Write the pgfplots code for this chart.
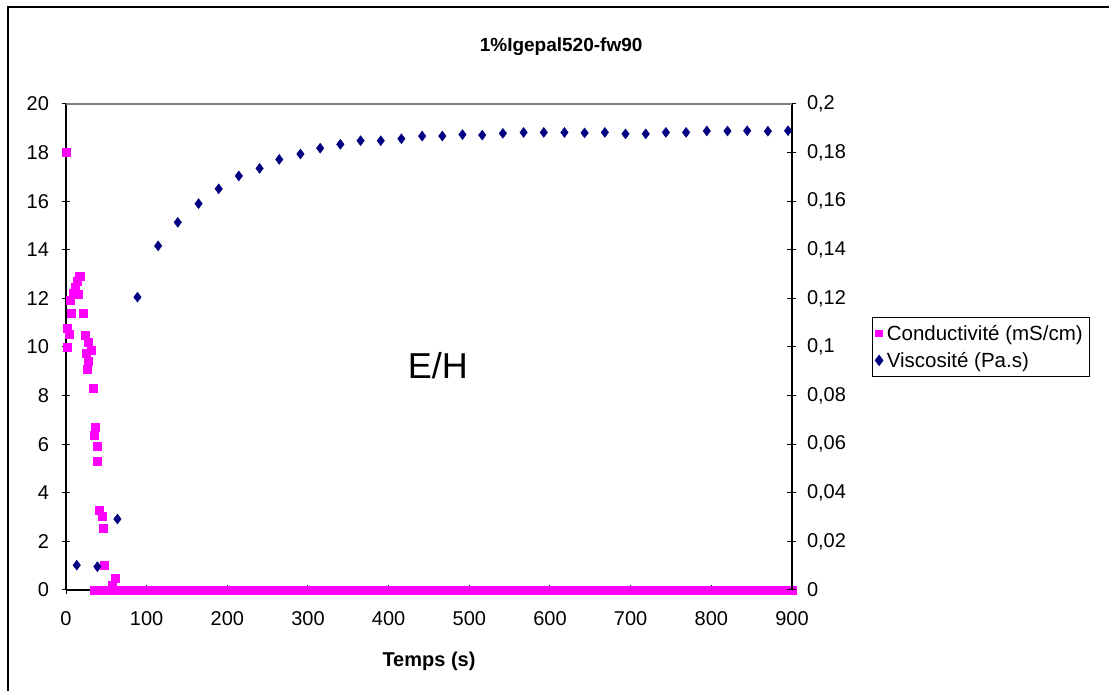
\documentclass[border=0pt]{standalone}
\usepackage{pgfplots}
\pgfplotsset{compat=1.18}
\usepackage{pgfplotstable}
\usepackage{fontspec}
\setmainfont{Liberation Sans}
\definecolor{cond}{RGB}{255,0,255}
\definecolor{visc}{RGB}{0,0,128}

\pgfplotstableread{
x y
0 18
2 10.76
2 9.99
4.5 10.53
5 11.93
6.2 11.41
9 12.21
12 12.48
13.3 12.69
15.3 12.18
16.2 12.9
18 12.9
21.5 11.41
23.6 10.47
24.9 9.74
25.7 9.09
27 9.40
27.8 10.19
30.7 9.85
33.2 8.30
34.8 6.38
36 6.72
38.1 5.93
38.9 5.28
41.4 3.29
44.3 3.02
45.6 2.54
47.2 1.0
56.8 0.2
61 0.48
35 0
40 0
45 0
50 0
55 0
60 0
65 0
70 0
75 0
80 0
85 0
90 0
95 0
100 0
105 0
110 0
115 0
120 0
125 0
130 0
135 0
140 0
145 0
150 0
155 0
160 0
165 0
170 0
175 0
180 0
185 0
190 0
195 0
200 0
205 0
210 0
215 0
220 0
225 0
230 0
235 0
240 0
245 0
250 0
255 0
260 0
265 0
270 0
275 0
280 0
285 0
290 0
295 0
300 0
305 0
310 0
315 0
320 0
325 0
330 0
335 0
340 0
345 0
350 0
355 0
360 0
365 0
370 0
375 0
380 0
385 0
390 0
395 0
400 0
405 0
410 0
415 0
420 0
425 0
430 0
435 0
440 0
445 0
450 0
455 0
460 0
465 0
470 0
475 0
480 0
485 0
490 0
495 0
500 0
505 0
510 0
515 0
520 0
525 0
530 0
535 0
540 0
545 0
550 0
555 0
560 0
565 0
570 0
575 0
580 0
585 0
590 0
595 0
600 0
605 0
610 0
615 0
620 0
625 0
630 0
635 0
640 0
645 0
650 0
655 0
660 0
665 0
670 0
675 0
680 0
685 0
690 0
695 0
700 0
705 0
710 0
715 0
720 0
725 0
730 0
735 0
740 0
745 0
750 0
755 0
760 0
765 0
770 0
775 0
780 0
785 0
790 0
795 0
800 0
805 0
810 0
815 0
820 0
825 0
830 0
835 0
840 0
845 0
850 0
855 0
860 0
865 0
870 0
875 0
880 0
885 0
890 0
895 0
900 0
}\conddata

\pgfplotstableread{
x y
13.3 0.0102
38.9 0.0096
63.8 0.0292
88.6 0.1205
114.2 0.1416
138.6 0.1513
164.3 0.1590
189.3 0.1651
214.3 0.1704
240 0.1735
264.4 0.1772
290.6 0.1794
315.1 0.1818
340.1 0.1834
365.2 0.1849
390.2 0.1849
415.8 0.1857
441.5 0.1868
466.5 0.1868
491.5 0.1874
516 0.1872
541.6 0.1879
567.3 0.1883
592.3 0.1883
617.9 0.1883
642.9 0.1881
668 0.1883
693.6 0.1877
718.7 0.1877
743.7 0.1883
768.7 0.1883
794.4 0.1889
820 0.1889
844.5 0.1890
870.1 0.1888
895.1 0.1890
}\viscdata

\begin{document}
\begin{tikzpicture}
\path[use as bounding box] (0,0) rectangle (1109bp,691bp);
\draw[line width=2.5bp] (8bp,0) -- (8bp,684bp) -- (1109bp,684bp);
\pgfplotsset{
  base/.style={
    at={(66bp,101bp)}, anchor=south west,
    scale only axis, width=726bp, height=486bp,
    xmin=0, xmax=900, clip=false,
    tick align=center, major tick length=9bp,
    every tick/.style={black, line width=1bp},
    axis line style={line width=1.2bp, black},
    tick label style={font=\fontsize{20bp}{23bp}\selectfont},
    /pgf/number format/assume math mode=true,
  }
}
\begin{axis}[base,
  ymin=0, ymax=20,
  axis x line*=bottom, axis y line*=left,
  xtick={0,100,...,900}, ytick={0,2,...,20},
  xticklabel style={yshift=-14bp},
  yticklabel style={xshift=-9bp},
  title={1\%Igepal520-fw90},
  title style={at={(axis description cs:0.682,1.105)}, anchor=center, font=\bfseries\fontsize{19bp}{22bp}\selectfont},
  xlabel={Temps (s)},
  xlabel style={at={(axis description cs:0.5,-0.146)}, anchor=center, font=\bfseries\fontsize{20bp}{23bp}\selectfont},
]
\addplot[only marks, mark=square*, mark size=4bp, color=cond, mark options={draw=cond, fill=cond}] table[x=x,y=y] {\conddata};
\node[font=\fontsize{36bp}{40bp}\selectfont] at (axis cs:461,9.22) {E/H};
\end{axis}
\begin{axis}[base,
  ymin=0, ymax=0.2,
  axis y line*=right, axis x line=none,
  ytick={0,0.02,...,0.2},
  yticklabel style={xshift=7bp, /pgf/number format/use comma, /pgf/number format/fixed, /pgf/number format/precision=2},
  legend style={at={(axis description cs:1.110,0.5617)}, anchor=north west, draw=black, line width=1bp,
    font=\fontsize{20.5bp}{23bp}\selectfont, inner xsep=3bp, inner ysep=6bp, row sep=6bp,
    legend cell align=left, nodes={inner xsep=4bp}},
  legend image code/.code={\draw[#1] plot coordinates {(0.25cm,0cm)};},
]
\draw[gray, line width=1.2bp] (rel axis cs:0,1) -- (rel axis cs:1,1);
\addlegendimage{only marks, mark=square*, mark size=3.2bp, color=cond, mark options={draw=cond, fill=cond}}
\addlegendentry{Conductivité (mS/cm)}
\addplot[only marks, mark=diamond*, mark size=5bp, color=visc, mark options={draw=visc, fill=visc}] table[x=x,y=y] {\viscdata};
\addlegendentry{Viscosité (Pa.s)}
\end{axis}
\end{tikzpicture}
\end{document}
